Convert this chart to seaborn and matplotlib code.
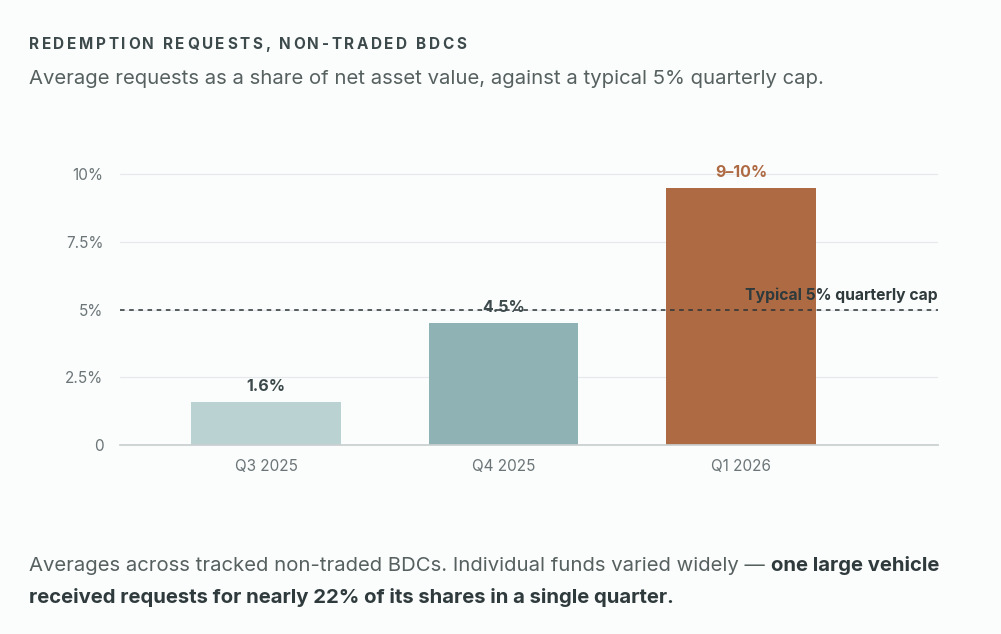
import matplotlib
matplotlib.use("Agg")
import matplotlib.pyplot as plt
import seaborn as sns
import pandas as pd

quarters = ["Q3 2025", "Q4 2025", "Q1 2026"]
values = [1.6, 4.5, 9.5]
labels = ["1.6%", "4.5%", "9\u201310%"]
colors = ["#bad3d2", "#8fb2b4", "#ae6a43"]
label_colors = ["#3d4a4c", "#3d4a4c", "#ae6a43"]
cap = 5
yticks = [0, 2.5, 5, 7.5, 10]
ytick_labels = ["0", "2.5%", "5%", "7.5%", "10%"]

sns.set_theme(style="white")
plt.rcParams["font.family"] = ["Inter", "DejaVu Sans"]
bg = "#fbfcfc"
fig = plt.figure(figsize=(10.01, 6.34), dpi=100, facecolor=bg)
ax = fig.add_axes([0.12, 0.298, 0.817, 0.47], facecolor=bg)

df = pd.DataFrame({"q": quarters, "v": values})
sns.barplot(data=df, x="q", y="v", hue="q", palette=colors, width=0.63,
            legend=False, ax=ax, saturation=1)
for p in ax.patches:
    p.set_linewidth(0)

ax.set_xlim(-0.615, 2.83)
ax.set_ylim(0, 11)
ax.set_yticks(yticks)
ax.set_yticklabels(ytick_labels)
ax.grid(axis="y", color="#e6e9ea", linewidth=0.8)
ax.set_axisbelow(True)
for s in ["top", "right", "left"]:
    ax.spines[s].set_visible(False)
ax.spines["bottom"].set_color("#c9cfd0")
ax.tick_params(axis="both", length=0, colors="#6b7577", labelsize=11)
ax.tick_params(axis="x", pad=10)
ax.tick_params(axis="y", pad=12)
ax.set_xlabel("")
ax.set_ylabel("")

ax.axhline(cap, color="#2a3335", linestyle=(0, (3, 3)), linewidth=1.1, zorder=3)
ax.text(2.83, cap + 0.25, "Typical 5% quarterly cap", ha="right", va="bottom",
        fontsize=11.3, fontweight="bold", color="#2f3a3c")

for i, (v, lab, c) in enumerate(zip(values, labels, label_colors)):
    ax.text(i, v + 0.3, lab, ha="center", va="bottom", fontsize=11.5,
            fontweight="bold", color=c)

# letter-spaced title, drawn one character at a time
fig.canvas.draw()
r = fig.canvas.get_renderer()
x = 29
for ch in "REDEMPTION REQUESTS, NON-TRADED BDCS":
    t = fig.text(x / 1001, 0.93, ch, fontsize=11, fontweight="bold",
                 color="#3d4a4c", va="center")
    w = t.get_window_extent(r).width if ch != " " else 3.5
    x += w + 2.6

fig.text(0.029, 0.875, "Average requests as a share of net asset value, against a typical 5% quarterly cap.",
         fontsize=14.6, color="#55605f", va="center")

t1 = fig.text(0.029, 0.108, "Averages across tracked non-traded BDCs. Individual funds varied widely \u2014 ",
              fontsize=14.6, color="#55605f", va="center")
bb = t1.get_window_extent(r)
fig.text(bb.x1 / fig.bbox.width, 0.108, "one large vehicle", fontsize=14.6,
         fontweight="bold", color="#2f3a3c", va="center")
fig.text(0.029, 0.057, "received requests for nearly 22% of its shares in a single quarter.",
         fontsize=14.6, fontweight="bold", color="#2f3a3c", va="center")

fig.savefig("out.png", dpi=100, facecolor=bg)
